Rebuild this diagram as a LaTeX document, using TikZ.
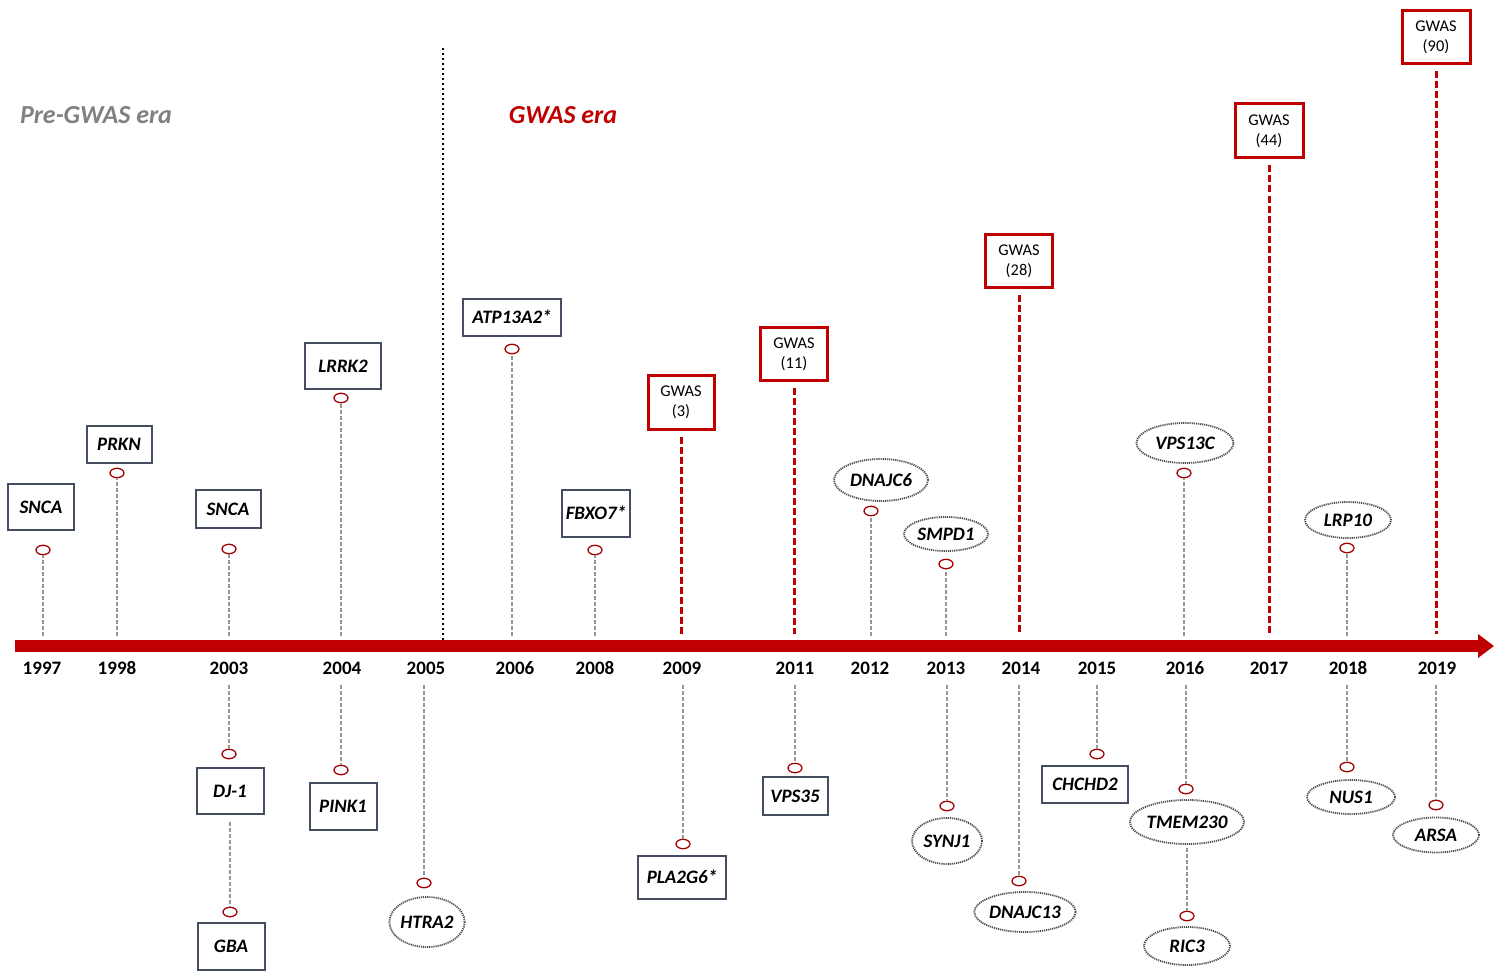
\documentclass[tikz,border=0pt]{standalone}
\usepackage{fontspec}
\setmainfont{Carlito}
\usetikzlibrary{arrows.meta,shapes.geometric}
\definecolor{axisred}{RGB}{192,0,0}
\definecolor{boxc}{RGB}{68,78,96}
\definecolor{dotc}{RGB}{80,80,80}
\definecolor{conn}{RGB}{150,150,150}
\definecolor{eragrey}{RGB}{128,128,128}
\tikzset{
  genebox/.style={draw=boxc,line width=1pt,fill=white,inner sep=0pt,font=\fontsize{9.5}{11}\selectfont\bfseries\itshape},
  geneell/.style={ellipse,draw=dotc,line width=0.9pt,dash pattern=on 0.6pt off 0.45pt,fill=white,inner sep=0pt,font=\fontsize{9.5}{11}\selectfont\bfseries\itshape},
  gwasbox/.style={draw=axisred,line width=1.5pt,fill=white,inner sep=0pt,align=center,font=\fontsize{8.2}{10}\selectfont},
  pin/.style={ellipse,draw=axisred!85!black,line width=0.65pt,fill=white,inner sep=0pt,minimum width=7pt,minimum height=4.7pt},
  stem/.style={conn,line width=1.1pt,dash pattern=on 2pt off 1pt},
  gwstem/.style={axisred,line width=1.5pt,dash pattern=on 3.5pt off 1.5pt},
  yearlab/.style={font=\fontsize{9.5}{11}\selectfont\bfseries},
  eralab/.style={font=\fontsize{13}{15}\selectfont\bfseries\itshape},
}
\begin{document}
\begin{tikzpicture}[x=0.5pt,y=-0.5pt]
\useasboundingbox (0,0) rectangle (1500,979);
% era divider and labels
\coordinate (divT) at (443,48);
\coordinate (divB) at (443,640);
\draw[black,line width=1.3pt,dash pattern=on 1.2pt off 1.3pt] (divT) -- (divB);
\node[eralab,text=eragrey] (pre) at (96,115) {Pre-GWAS era};
\node[eralab,text=axisred] (gwe) at (563,115) {GWAS era};
% axis
\coordinate (axL) at (15,646);
\coordinate (axR) at (1494,646);
\draw[axisred,line width=6pt,-{Triangle[length=8pt,width=11.5pt]}] (axL) -- (axR);
% years
\foreach \yr/\xx in {1997/42,1998/117,2003/229,2004/342,2005/426,2006/515,2008/595,2009/682,2011/795,2012/870,2013/946,2014/1021,2015/1097,2016/1185,2017/1269,2018/1348,2019/1437}{
  \node[yearlab] (y\yr) at (\xx,668) {\yr};
}
% ---------- above the axis ----------
\node[genebox,minimum width=33pt,minimum height=23pt] (g97) at (41,507) {SNCA};
\node[pin] (p97) at (43,550) {};
\coordinate (a97) at (43,636);
\draw[stem] (a97) -- (p97);

\node[genebox,minimum width=32.5pt,minimum height=18.5pt] (g98) at (119,444) {PRKN};
\node[pin] (p98) at (117,473) {};
\coordinate (a98) at (117,636);
\draw[stem] (a98) -- (p98);

\node[genebox,minimum width=32.5pt,minimum height=19pt] (g03) at (228,509) {SNCA};
\node[pin] (p03) at (229,549) {};
\coordinate (a03) at (229,636);
\draw[stem] (a03) -- (p03);

\node[genebox,minimum width=38pt,minimum height=23pt] (g04) at (343,366) {LRRK2};
\node[pin] (p04) at (341,398) {};
\coordinate (a04) at (341,636);
\draw[stem] (a04) -- (p04);

\node[genebox,minimum width=49pt,minimum height=18.5pt] (g06) at (512,317) {ATP13A2*};
\node[pin] (p06) at (512,349) {};
\coordinate (a06) at (512,636);
\draw[stem] (a06) -- (p06);

\node[genebox,minimum width=34pt,minimum height=23.5pt] (g08) at (596,513) {FBXO7*};
\node[pin] (p08) at (595,550) {};
\coordinate (a08) at (595,636);
\draw[stem] (a08) -- (p08);

\node[gwasbox,minimum width=33pt,minimum height=27pt] (w09) at (681,402) {GWAS\\(3)};
\coordinate (a09) at (681,634);
\draw[gwstem] ([yshift=-3pt]w09.south) -- (a09);

\node[gwasbox,minimum width=33.5pt,minimum height=26.5pt] (w11) at (794,354) {GWAS\\(11)};
\coordinate (a11) at (794,634);
\draw[gwstem] ([yshift=-3pt]w11.south) -- (a11);

\node[geneell,minimum width=47pt,minimum height=21pt] (g12) at (881,480) {DNAJC6};
\node[pin] (p12) at (871,511) {};
\coordinate (a12) at (871,636);
\draw[stem] (a12) -- (p12);

\node[geneell,minimum width=42pt,minimum height=17pt] (g13) at (946,534) {SMPD1};
\node[pin] (p13) at (946,564) {};
\coordinate (a13) at (946,636);
\draw[stem] (a13) -- (p13);

\node[gwasbox,minimum width=33.5pt,minimum height=26.5pt] (w14) at (1019,261) {GWAS\\(28)};
\coordinate (a14) at (1019,634);
\draw[gwstem] ([yshift=-3pt]w14.south) -- (a14);

\node[geneell,minimum width=48.5pt,minimum height=20pt] (g16) at (1185,443) {VPS13C};
\node[pin] (p16) at (1184,473) {};
\coordinate (a16) at (1184,636);
\draw[stem] (a16) -- (p16);

\node[gwasbox,minimum width=34pt,minimum height=27pt] (w17) at (1269,131) {GWAS\\(44)};
\coordinate (a17) at (1269,634);
\draw[gwstem] ([yshift=-3pt]w17.south) -- (a17);

\node[geneell,minimum width=43pt,minimum height=18pt] (g18) at (1348,520) {LRP10};
\node[pin] (p18) at (1347,548) {};
\coordinate (a18) at (1347,636);
\draw[stem] (a18) -- (p18);

\node[gwasbox,minimum width=34pt,minimum height=26.5pt] (w19) at (1436,37) {GWAS\\(90)};
\coordinate (a19) at (1436,634);
\draw[gwstem] ([yshift=-3pt]w19.south) -- (a19);
% ---------- below the axis ----------
\coordinate (b03) at (229,685);
\node[pin] (q03a) at (229,754) {};
\draw[stem] (b03) -- (q03a);
\node[genebox,minimum width=33.5pt,minimum height=23pt] (h03a) at (230,791) {DJ-1};
\node[pin] (q03b) at (230,912) {};
\draw[stem] ([yshift=-3.5pt]h03a.south) -- (q03b);
\node[genebox,minimum width=33.5pt,minimum height=23.5pt] (h03b) at (231,946) {GBA};

\coordinate (b04) at (341,685);
\node[pin] (q04) at (341,770) {};
\draw[stem] (b04) -- (q04);
\node[genebox,minimum width=33.5pt,minimum height=23.5pt] (h04) at (343,806) {PINK1};

\coordinate (b05) at (424,685);
\node[pin] (q05) at (424,883) {};
\draw[stem] (b05) -- (q05);
\node[geneell,minimum width=34pt,minimum height=25pt] (h05) at (427,922) {HTRA2};

\coordinate (b09) at (683,685);
\node[pin] (q09) at (683,844) {};
\draw[stem] (b09) -- (q09);
\node[genebox,minimum width=44pt,minimum height=21.5pt] (h09) at (682,877) {PLA2G6*};

\coordinate (b11) at (795,685);
\node[pin] (q11) at (795,768) {};
\draw[stem] (b11) -- (q11);
\node[genebox,minimum width=32.5pt,minimum height=19pt] (h11) at (795,796) {VPS35};

\coordinate (b13) at (947,685);
\node[pin] (q13) at (947,806) {};
\draw[stem] (b13) -- (q13);
\node[geneell,minimum width=35pt,minimum height=23pt] (h13) at (947,841) {SYNJ1};

\coordinate (b14) at (1019,685);
\node[pin] (q14) at (1019,881) {};
\draw[stem] (b14) -- (q14);
\node[geneell,minimum width=47.5pt,minimum height=20pt] (h14) at (1025,912) {DNAJC13};

\coordinate (b15) at (1097,685);
\node[pin] (q15) at (1097,754) {};
\draw[stem] (b15) -- (q15);
\node[genebox,minimum width=43pt,minimum height=18.5pt] (h15) at (1085,784) {CHCHD2};

\coordinate (b16) at (1186,685);
\node[pin] (q16a) at (1186,789) {};
\draw[stem] (b16) -- (q16a);
\node[geneell,minimum width=54pt,minimum height=22pt] (h16a) at (1187,822) {TMEM230};
\node[pin] (q16b) at (1187,916) {};
\draw[stem] ([yshift=-1.5pt]h16a.south) -- (q16b);
\node[geneell,minimum width=43pt,minimum height=19pt] (h16b) at (1187,946) {RIC3};

\coordinate (b18) at (1347,685);
\node[pin] (q18) at (1347,767) {};
\draw[stem] (b18) -- (q18);
\node[geneell,minimum width=44pt,minimum height=17pt] (h18) at (1351,797) {NUS1};

\coordinate (b19) at (1436,685);
\node[pin] (q19) at (1436,805) {};
\draw[stem] (b19) -- (q19);
\node[geneell,minimum width=43pt,minimum height=17.5pt] (h19) at (1436,835) {ARSA};
\end{tikzpicture}
\end{document}
